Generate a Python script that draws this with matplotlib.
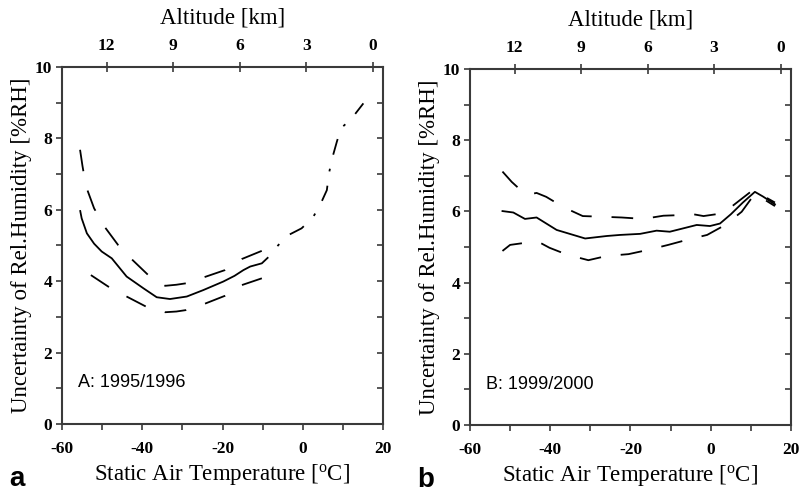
import matplotlib
matplotlib.use("Agg")
import matplotlib.pyplot as plt
from matplotlib.ticker import MultipleLocator, NullFormatter, FixedLocator

plt.rcParams["axes.unicode_minus"] = False

# ---------------- data ----------------
# Panel A (1995/1996)
a_mean_T = [-55.5, -55.1, -53.8, -52.0, -50.1, -47.6, -43.9, -39.7, -36.4, -33.1,
            -28.9, -24.8, -19.8, -17.0, -14.8, -13.1, -10.2, -8.6]
a_mean_U = [5.99, 5.76, 5.34, 5.05, 4.83, 4.64, 4.13, 3.80, 3.55, 3.50,
            3.57, 3.75, 3.99, 4.15, 4.31, 4.41, 4.50, 4.67]
a_ext_T = [-8.6, -6.1, -3.6, -0.3, 2.5, 4.3, 6.0, 6.5, 7.2, 8.5, 9.5, 12.2, 15.1]
a_ext_U = [4.67, 5.01, 5.29, 5.48, 5.78, 6.13, 6.55, 7.00, 7.39, 7.91, 8.28, 8.56, 8.98]
a_up_T = [-55.5, -54.9, -54.4, -54.0, -52.0, -49.3, -46.0, -42.4, -38.5, -34.3,
          -31.5, -29.1, -24.6, -19.4, -15.2, -10.2]
a_up_U = [7.68, 7.23, 6.90, 6.65, 6.04, 5.51, 5.01, 4.59, 4.17, 3.87,
          3.90, 3.94, 4.11, 4.31, 4.62, 4.85]
a_lo_T = [-52.8, -48.5, -43.9, -39.1, -34.3, -31.5, -29.1, -24.6, -19.4, -15.2, -10.2]
a_lo_U = [4.17, 3.85, 3.57, 3.29, 3.13, 3.15, 3.19, 3.36, 3.59, 3.89, 4.08]

# Panel B (1999/2000)
b_mean_T = [-51.9, -49.2, -46.3, -43.4, -38.4, -31.3, -25.9, -22.6, -17.6, -13.5,
            -10.2, -3.5, -0.2, 2.3, 5.0, 8.0, 11.0, 13.0, 16.0]
b_mean_U = [6.01, 5.97, 5.79, 5.83, 5.48, 5.24, 5.31, 5.34, 5.37, 5.46,
            5.43, 5.62, 5.59, 5.66, 5.92, 6.25, 6.55, 6.42, 6.20]
b_up_T = [-51.9, -49.6, -46.0, -43.4, -41.0, -36.7, -31.9, -26.8, -22.2, -16.8,
          -11.8, -6.8, -4.3, -1.8, 3.1, 7.3, 10.5, 16.0]
b_up_U = [7.12, 6.83, 6.46, 6.52, 6.41, 6.12, 5.87, 5.85, 5.83, 5.79,
          5.88, 5.90, 5.92, 5.87, 5.95, 6.32, 6.60, 6.25]
b_lo_T = [-51.9, -50.0, -45.5, -43.0, -40.2, -35.9, -30.5, -25.9, -20.5, -15.6,
          -10.6, -6.0, -0.9, 3.6, 7.7, 11.0, 16.0]
b_lo_U = [4.89, 5.06, 5.13, 5.15, 4.98, 4.79, 4.63, 4.75, 4.80, 4.92,
          5.06, 5.20, 5.34, 5.62, 5.99, 6.50, 6.15]

alt_ticks = [12, 9, 6, 3, 0]
panel_letters = ["a", "b"]
panel_notes = ["A: 1995/1996", "B: 1999/2000"]

# ---------------- figure ----------------
fig = plt.figure(figsize=(7.99, 4.96), dpi=100)
ax_a = fig.add_axes([0.0776, 0.1452, 0.4018, 0.7198])
ax_b = fig.add_axes([0.5882, 0.1431, 0.4018, 0.7177])

SERIF = "Liberation Serif"
SANS = "Liberation Sans"
SPC = "#3a3a3a"
LW = 1.3
TICKFS = 12.5
DASH = (0, (12, 11))
DASHDOT = (9, (9, 8, 1.5, 8))


def t2a(t):
    return (17.4 - t) / 5.52


def a2t(a):
    return 17.4 - 5.52 * a


def boldserif(labels):
    for lab in labels:
        lab.set_fontfamily(SERIF)
        lab.set_fontweight("bold")
        lab.set_fontsize(TICKFS)


def style(ax, letter, note):
    ax.set_xlim(-60, 20)
    ax.set_ylim(0, 10)
    ax.xaxis.set_major_locator(MultipleLocator(20))
    ax.xaxis.set_minor_locator(FixedLocator([-50, -30, -10, 10]))
    ax.yaxis.set_major_locator(MultipleLocator(2))
    ax.yaxis.set_minor_locator(MultipleLocator(1))
    ax.tick_params(axis="both", which="both", direction="out", length=4.5,
                   width=1.2, color=SPC)
    ax.tick_params(axis="x", which="major", pad=8)
    ax.tick_params(axis="y", which="major", pad=2.5)
    ax.tick_params(top=False, right=False)
    boldserif(ax.get_xticklabels() + ax.get_yticklabels())
    for s in ax.spines.values():
        s.set_color(SPC)
        s.set_linewidth(1.5)
    ax.spines["top"].set_visible(False)
    ax.spines["right"].set_visible(False)

    top = ax.secondary_xaxis("top", functions=(t2a, a2t))
    top.set_xticks(alt_ticks)
    top.tick_params(direction="inout", length=7, width=1.2, color=SPC, pad=6)
    boldserif(top.get_xticklabels())
    top.spines["top"].set_color(SPC)
    top.spines["top"].set_linewidth(1.5)
    top.set_xlabel("Altitude [km]", fontfamily=SERIF, fontsize=16.5, labelpad=10)

    right = ax.secondary_yaxis("right")
    right.yaxis.set_major_locator(MultipleLocator(1))
    right.yaxis.set_major_formatter(NullFormatter())
    right.tick_params(direction="in", length=4.5, width=1.2, color=SPC)
    right.spines["right"].set_color(SPC)
    right.spines["right"].set_linewidth(1.5)

    ax.set_xlabel("Static Air Temperature [$\\mathregular{^{o}}$C]",
                  fontfamily=SERIF, fontsize=16.5, labelpad=3)
    ax.set_ylabel("Uncertainty of Rel.Humidity [%RH]", fontfamily=SERIF,
                  fontsize=16.5, labelpad=2)
    ax.text(0.05, 0.115, note, transform=ax.transAxes, fontfamily=SANS,
            fontsize=13, va="center", ha="left")
    ax.text(-0.165, -0.155, letter, transform=ax.transAxes, fontfamily=SANS,
            fontsize=20, fontweight="bold", va="center", ha="left")


# Panel A
ax_a.plot(a_mean_T, a_mean_U, color="black", lw=LW, solid_capstyle="butt")
ax_a.plot(a_ext_T, a_ext_U, color="black", lw=LW, linestyle=DASHDOT)
ax_a.plot(a_up_T, a_up_U, color="black", lw=LW, linestyle=DASH)
ax_a.plot(a_lo_T, a_lo_U, color="black", lw=LW, linestyle=DASH)
style(ax_a, panel_letters[0], panel_notes[0])

# Panel B
ax_b.plot(b_mean_T, b_mean_U, color="black", lw=LW)
ax_b.plot(b_up_T, b_up_U, color="black", lw=LW, linestyle=DASH)
ax_b.plot(b_lo_T, b_lo_U, color="black", lw=LW, linestyle=DASH)
style(ax_b, panel_letters[1], panel_notes[1])

fig.savefig("out.png", dpi=100)
